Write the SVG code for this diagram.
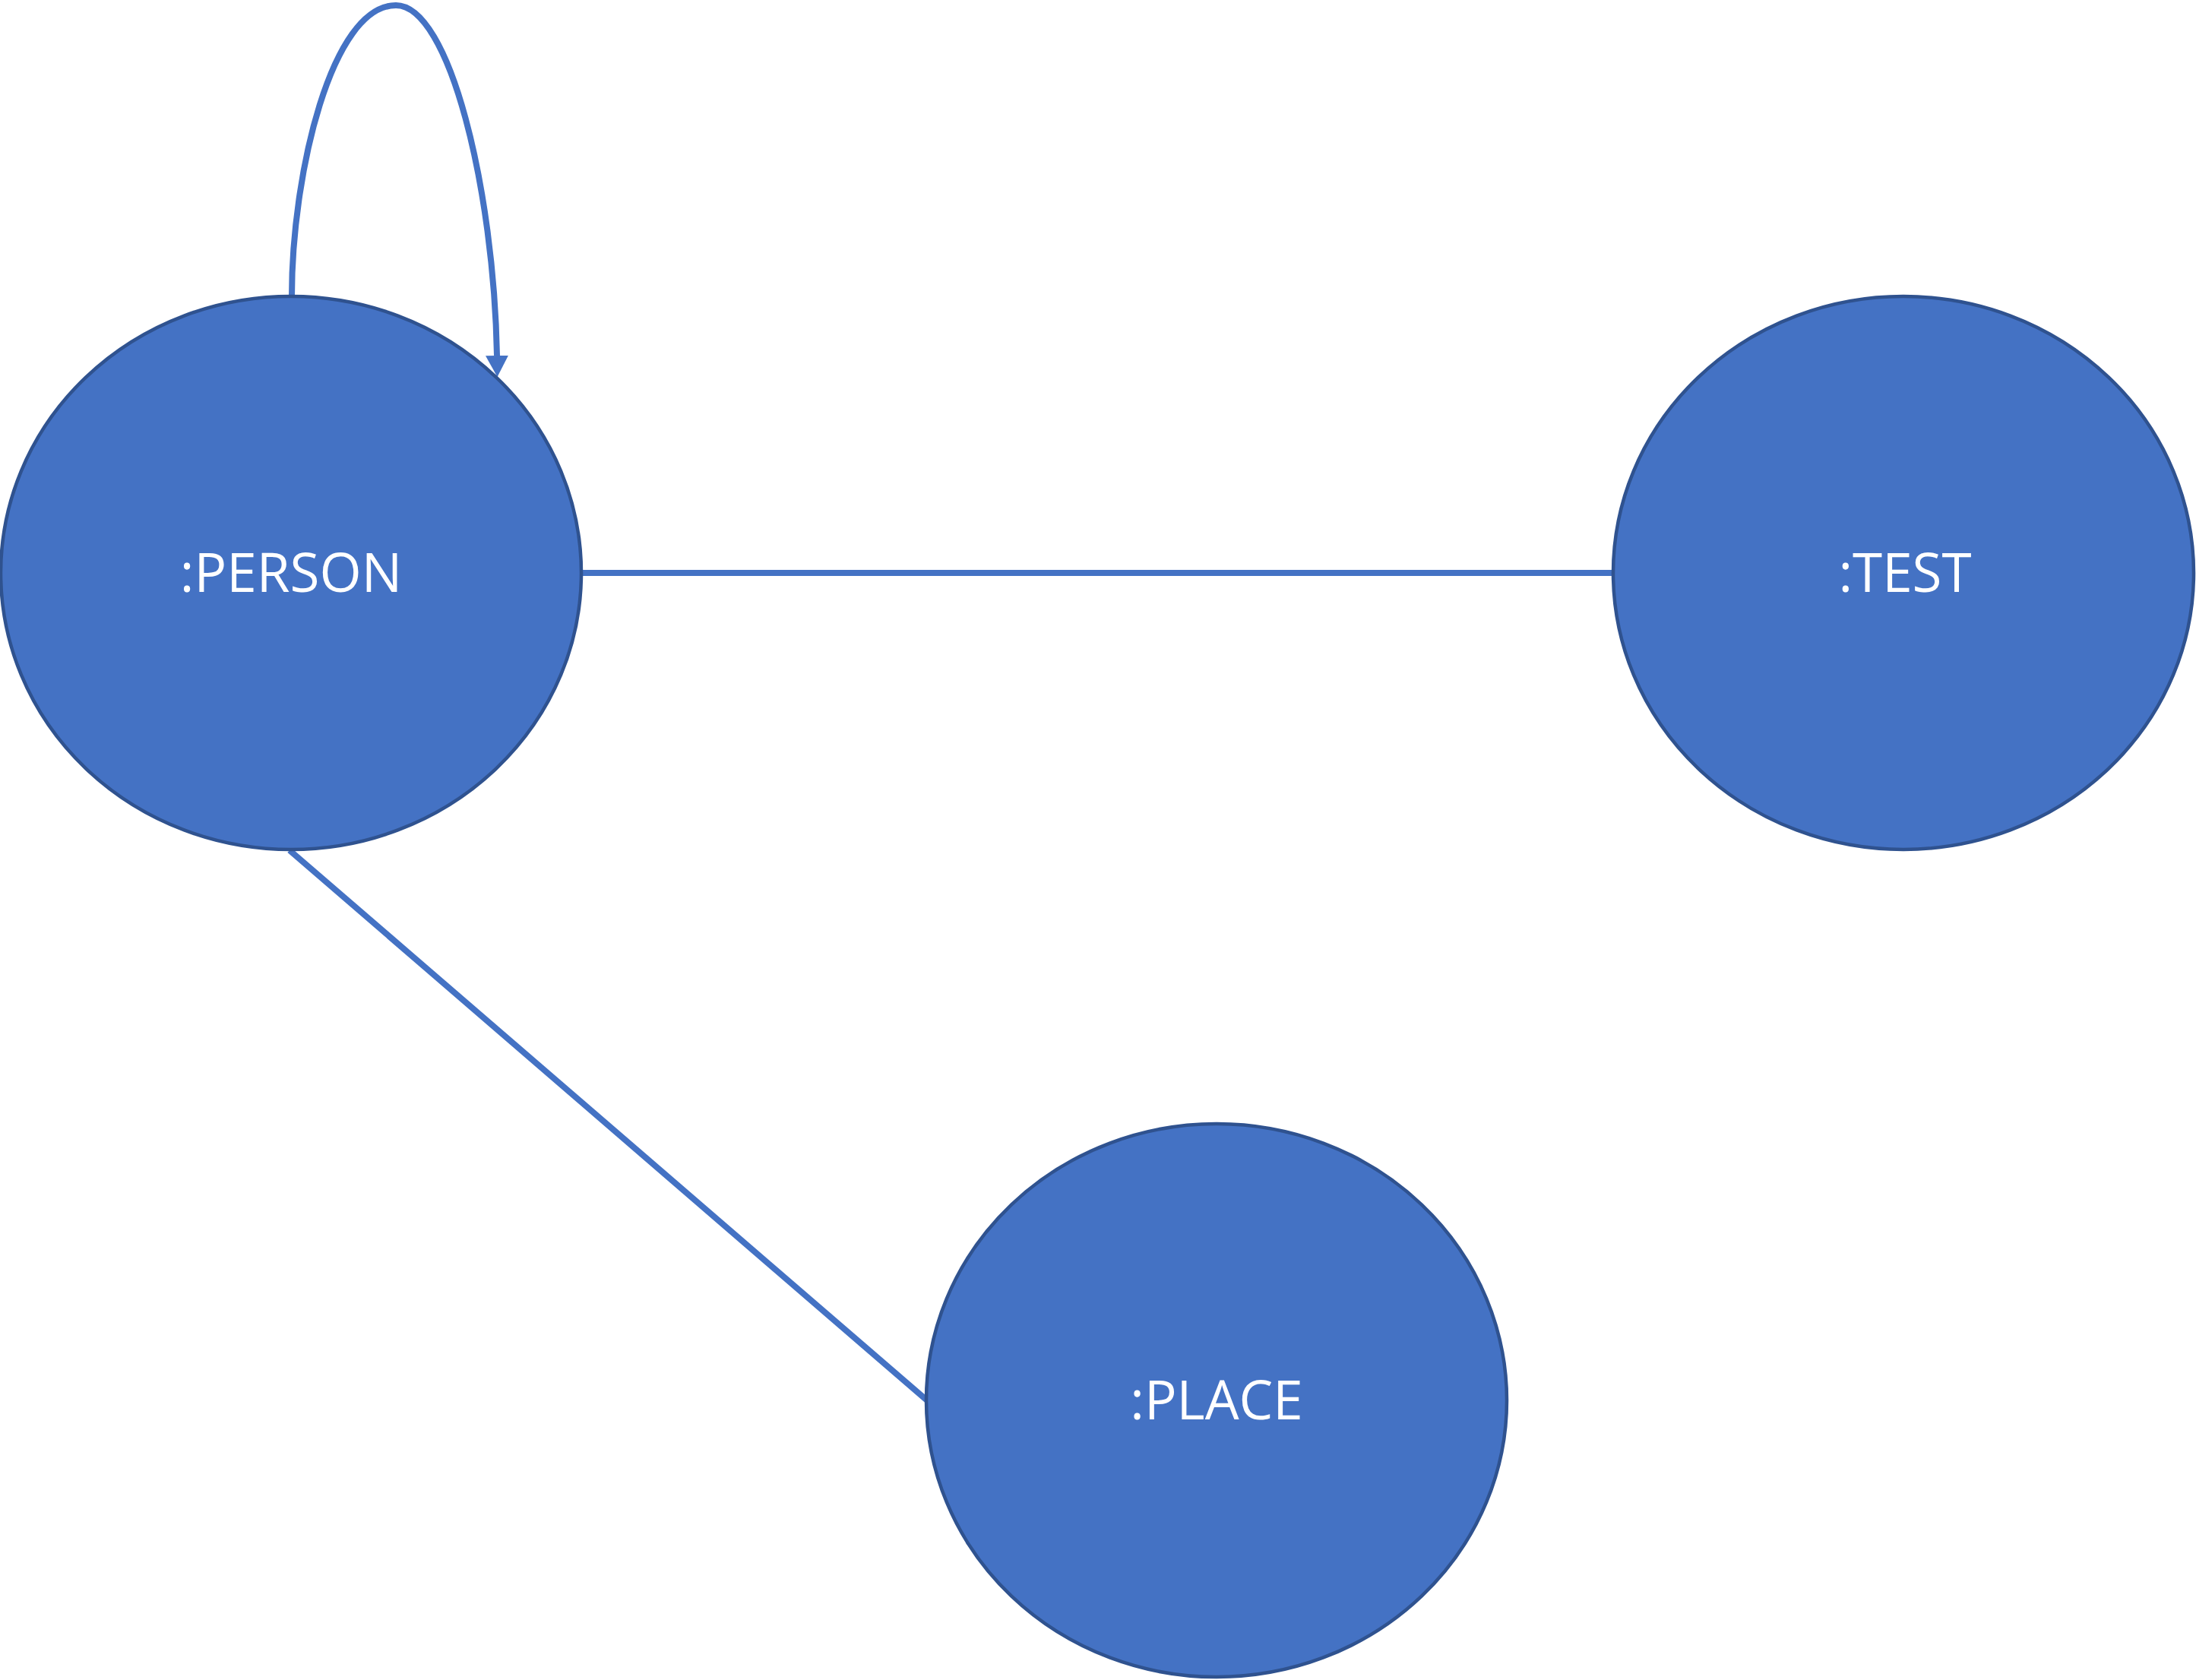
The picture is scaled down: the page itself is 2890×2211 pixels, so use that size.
<svg xmlns="http://www.w3.org/2000/svg" width="2890" height="2211" viewBox="0 0 2890 2211">
<style>
.node{fill:#4472C4;stroke:#2F528F;stroke-width:4.5}
.lbl{fill:#FFFFFF;font-family:"Open Sans","Noto Sans","Liberation Sans",sans-serif;font-size:71px;text-anchor:middle}
.edge{fill:none;stroke:#4472C4;stroke-width:8}
</style>
<defs>
<marker id="arr" markerUnits="userSpaceOnUse" viewBox="0 0 28 30" refX="0" refY="15" markerWidth="28" markerHeight="30" orient="auto">
<path d="M0,0 L28,15 L0,30 z" fill="#4472C4"/>
</marker>
</defs>
<rect width="2890" height="2211" fill="#FFFFFF"/>
<g id="connectors">
<line class="edge" x1="765" y1="754" x2="2123" y2="754"/>
<line class="edge" x1="381" y1="1119" x2="1220" y2="1843"/>
<path class="edge" d="M384,390 C384,230 436,7 521,7 C592,7 650,250 654,468" marker-end="url(#arr)"/>
</g>
<g id="person">
<ellipse class="node" cx="383" cy="754" rx="382" ry="364"/>
<text class="lbl" x="383" y="779">:PERSON</text>
</g>
<g id="test">
<ellipse class="node" cx="2505" cy="754" rx="382" ry="364"/>
<text class="lbl" x="2507" y="779">:TEST</text>
</g>
<g id="place">
<ellipse class="node" cx="1601" cy="1843" rx="382" ry="364"/>
<text class="lbl" x="1601" y="1868">:PLACE</text>
</g>
</svg>
